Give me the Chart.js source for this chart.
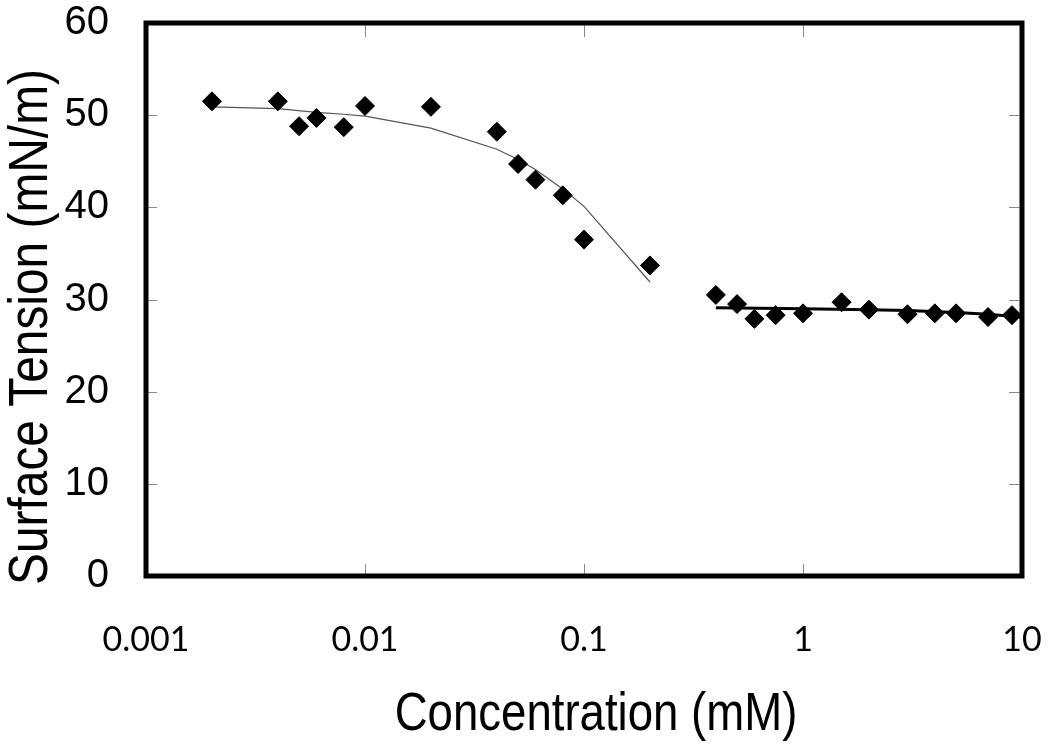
<!DOCTYPE html>
<html><head><meta charset="utf-8">
<script src="https://cdn.jsdelivr.net/npm/chart.js@4"></script>
<style>html,body{margin:0;padding:0;background:#fff}#c{display:block}</style>
</head><body>
<canvas id="c" width="1050" height="746"></canvas>
<script>
// Measured points
const concentration = [0.002, 0.004, 0.005, 0.006, 0.008, 0.01, 0.02, 0.04, 0.05, 0.06, 0.08, 0.1, 0.2,
  0.4, 0.5, 0.6, 0.75, 1, 1.5, 2, 3, 4, 5, 7, 9];
const surfaceTension = [51.5, 51.5, 48.8, 49.7, 48.7, 51.0, 50.9, 48.2, 44.7, 43.0, 41.3, 36.5, 33.7,
  30.5, 29.5, 27.9, 28.3, 28.5, 29.7, 28.9, 28.4, 28.5, 28.5, 28.1, 28.3];
// Fit below CMC (thin grey)
const fitLowX = [0.002, 0.004, 0.006, 0.008, 0.01, 0.02, 0.04, 0.05, 0.06, 0.08, 0.1, 0.2];
const fitLowY = [50.9, 50.7, 50.3, 50.1, 49.9, 48.6, 46.3, 45.2, 44.1, 42.0, 40.1, 31.9];
// Fit above CMC (thick black)
const fitHighX = [0.4, 1, 2, 3, 5, 7, 10];
const fitHighY = [29.1, 29.0, 28.9, 28.8, 28.6, 28.4, 28.07];
// Axes
const xTickValues = [0.001, 0.01, 0.1, 1, 10];
const xTickLabels = ['0.001', '0.01', '0.1', '1', '10'];
const yTickValues = [0, 10, 20, 30, 40, 50, 60];
const xTitle = 'Concentration (mM)';
const yTitle = 'Surface Tension (mN/m)';

const SANS = "'Liberation Sans', Arial, sans-serif";

function noPad(s) { s.paddingTop = 0; s.paddingBottom = 0; s.paddingLeft = 0; s.paddingRight = 0; }

const framePlugin = {
  id: 'frameTicksTitles',
  afterDraw(chart) {
    const {ctx, chartArea: a, scales} = chart;
    ctx.save();
    // inward tick marks on all four sides
    ctx.strokeStyle = '#8a8a8a';
    ctx.lineWidth = 1;
    ctx.beginPath();
    yTickValues.slice(1, -1).forEach(v => {
      const py = Math.round(scales.y.getPixelForValue(v)) + 0.5;
      ctx.moveTo(a.left, py); ctx.lineTo(a.left + 11, py);
      ctx.moveTo(a.right - 13, py); ctx.lineTo(a.right, py);
    });
    xTickValues.slice(1, -1).forEach(v => {
      const px = Math.round(scales.x.getPixelForValue(v)) + 0.5;
      ctx.moveTo(px, a.bottom); ctx.lineTo(px, a.bottom - 12);
      ctx.moveTo(px, a.top); ctx.lineTo(px, a.top + 14);
    });
    ctx.stroke();
    // thick frame
    ctx.strokeStyle = '#000';
    ctx.lineWidth = 5;
    ctx.strokeRect(a.left, a.top, a.right - a.left, a.bottom - a.top);
    // axis titles (condensed sans)
    ctx.fillStyle = '#000';
    ctx.textAlign = 'center';
    ctx.textBaseline = 'alphabetic';
    ctx.save();
    ctx.translate(596, 730);
    ctx.scale(0.86, 1);
    ctx.font = '53px ' + SANS;
    ctx.fillText(xTitle, 0, 0);
    ctx.restore();
    ctx.save();
    ctx.translate(47, 327);
    ctx.rotate(-Math.PI / 2);
    ctx.scale(0.87, 1);
    ctx.font = '55px ' + SANS;
    ctx.fillText(yTitle, 0, 0);
    ctx.restore();
    ctx.restore();
  }
};

new Chart(document.getElementById('c'), {
  type: 'scatter',
  data: {
    datasets: [
      {
        label: 'Measured',
        data: concentration.map((x, i) => ({x, y: surfaceTension[i]})),
        pointStyle: 'rectRot', pointRadius: 9.5,
        backgroundColor: '#000', borderColor: '#000', borderWidth: 1,
        showLine: false
      },
      {
        label: 'Fit below CMC',
        data: fitLowX.map((x, i) => ({x, y: fitLowY[i]})),
        showLine: true, pointRadius: 0, borderColor: '#555', borderWidth: 1.2, tension: 0
      },
      {
        label: 'Fit above CMC',
        data: fitHighX.map((x, i) => ({x, y: fitHighY[i]})),
        showLine: true, pointRadius: 0, borderColor: '#000', borderWidth: 3, tension: 0
      }
    ]
  },
  options: {
    responsive: false, animation: false, devicePixelRatio: 1,
    layout: {padding: {left: 0, top: 23, right: 28, bottom: 0}},
    plugins: {legend: {display: false}, tooltip: {enabled: false}},
    scales: {
      x: {
        type: 'logarithmic', min: 0.001, max: 10,
        afterBuildTicks: s => { s.ticks = xTickValues.map(v => ({value: v})); },
        afterFit: s => { s.height = 170; noPad(s); },
        grid: {display: false}, border: {display: false},
        ticks: {
          callback: (v, i) => xTickLabels[i],
          font: {family: 'Lato', size: 34, lineHeight: 1.2}, color: '#000',
          padding: 36, maxRotation: 0, autoSkip: false
        }
      },
      y: {
        type: 'linear', min: 0, max: 60,
        afterBuildTicks: s => { s.ticks = yTickValues.map(v => ({value: v})); },
        afterFit: s => { s.width = 146; noPad(s); },
        grid: {display: false}, border: {display: false},
        ticks: {
          font: {family: SANS, size: 40, lineHeight: 1}, color: '#000',
          padding: 29
        }
      }
    }
  },
  plugins: [framePlugin]
});
</script>
</body></html>
